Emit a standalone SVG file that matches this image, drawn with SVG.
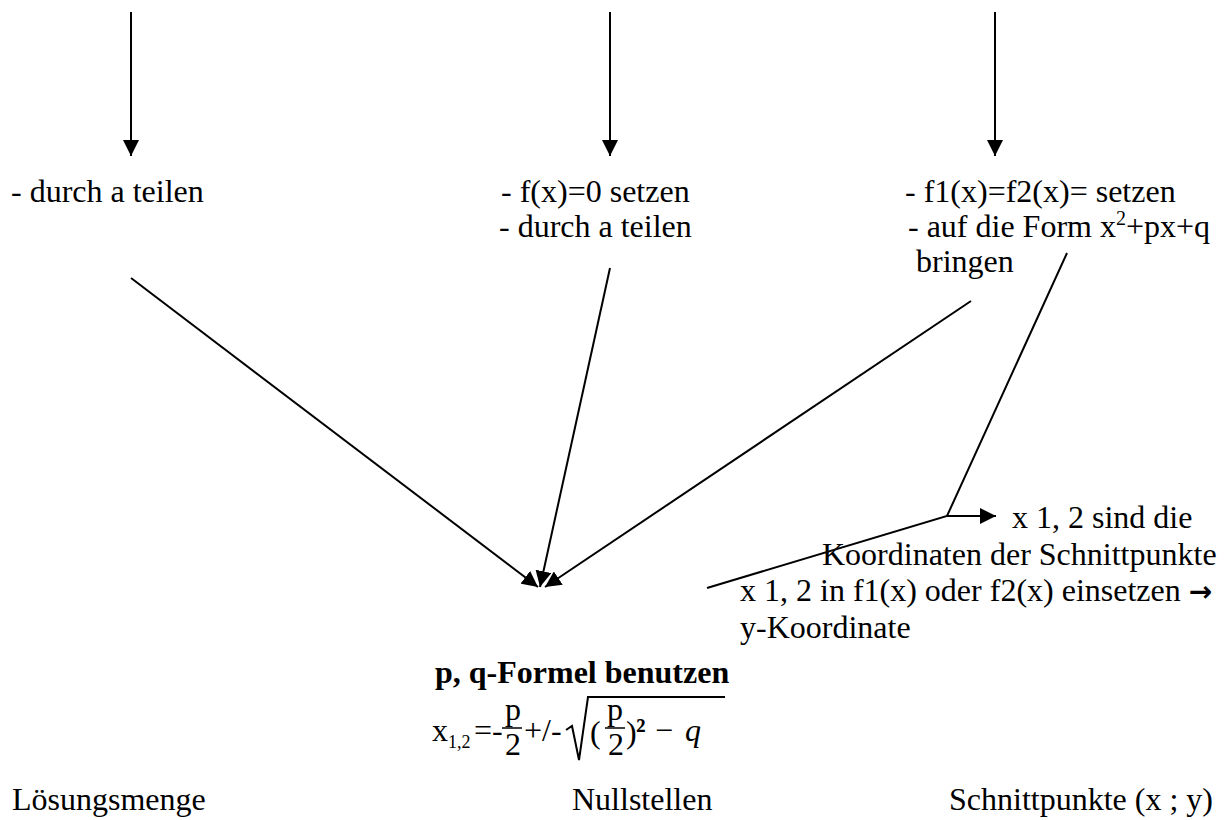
<svg xmlns="http://www.w3.org/2000/svg" width="1224" height="820" viewBox="0 0 1224 820">
<style>
text{font-family:"Liberation Serif","Times New Roman",serif;font-size:32px;fill:#000}
.b{font-weight:bold}
.sm{font-size:18px}
.ln{stroke:#000;stroke-width:2;fill:none}
.fb{stroke:#000;stroke-width:1.5}
</style>
<defs>
<marker id="ah2" viewBox="0 0 10 10" refX="10" refY="5" markerWidth="16" markerHeight="16" markerUnits="userSpaceOnUse" orient="auto">
<path d="M0,0 L10,5 L0,10 Z" fill="#000"/>
</marker>
</defs>
<g id="connectors">
<line class="ln" x1="131" y1="12" x2="131" y2="156" marker-end="url(#ah2)"/>
<line class="ln" x1="610" y1="12" x2="610" y2="156" marker-end="url(#ah2)"/>
<line class="ln" x1="995" y1="12" x2="995" y2="156" marker-end="url(#ah2)"/>
<line class="ln" x1="131" y1="278" x2="538" y2="587" marker-end="url(#ah2)"/>
<line class="ln" x1="610" y1="268" x2="540" y2="587" marker-end="url(#ah2)"/>
<line class="ln" x1="971" y1="301" x2="545" y2="587" marker-end="url(#ah2)"/>
<polyline class="ln" points="1067,253 947,516 707,588"/>
<line class="ln" x1="947" y1="516" x2="996" y2="516" marker-end="url(#ah2)"/>
</g>
<g id="node-left">
<text x="11" y="202">- durch a teilen</text>
</g>
<g id="node-middle">
<text x="501" y="202">- f(x)=0 setzen</text>
<text x="499" y="237">- durch a teilen</text>
</g>
<g id="node-right">
<text x="905" y="202">- f1(x)=f2(x)= setzen</text>
<text x="908" y="237">- auf die Form x<tspan dy="-12" font-size="20">2</tspan><tspan dy="12">+px+q</tspan></text>
<text x="916" y="272">bringen</text>
</g>
<g id="node-schnitt">
<text x="1012" y="528">x 1, 2 sind die</text>
<text x="822" y="565">Koordinaten der Schnittpunkte</text>
<text x="740" y="601">x 1, 2 in f1(x) oder f2(x) einsetzen <tspan font-family="DejaVu Sans, sans-serif" font-size="28" font-weight="bold">→</tspan></text>
<text x="740" y="638">y-Koordinate</text>
</g>
<g id="node-formula">
<text class="b" x="435" y="683">p, q-Formel benutzen</text>
<text x="432" y="741">x</text>
<text class="sm" x="448" y="748">1,2</text>
<text x="474" y="741">=-</text>
<text x="505" y="720">p</text>
<line class="fb" x1="502" y1="728" x2="522" y2="728"/>
<text x="505" y="755">2</text>
<text x="524" y="741">+/-</text>
<path d="M566,730 L572,726 L579,760 L588,697 L725,697" class="ln" stroke-width="1.5"/>
<text x="590" y="743">(</text>
<text x="607" y="720">p</text>
<line class="fb" x1="605" y1="728" x2="625" y2="728"/>
<text x="608" y="755">2</text>
<text x="626" y="743">)</text>
<text class="b" x="636" y="741" font-size="26">²</text>
<text x="655" y="741">−</text>
<text x="685" y="741" font-style="italic">q</text>
</g>
<g id="labels">
<text x="12" y="810">Lösungsmenge</text>
<text x="572" y="810">Nullstellen</text>
<text x="1213" y="810" text-anchor="end">Schnittpunkte (x ; y)</text>
</g>
</svg>
